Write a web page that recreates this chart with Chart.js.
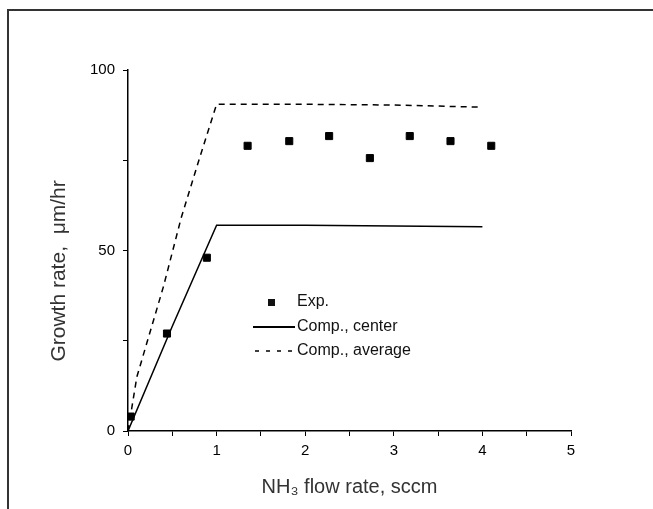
<!DOCTYPE html>
<html>
<head>
<meta charset="utf-8">
<script src="https://cdn.jsdelivr.net/npm/chart.js@4.4.0/dist/chart.umd.min.js"></script>
<style>
  html, body { margin: 0; padding: 0; background: #fff; }
  #wrap { width: 653px; height: 509px; }
</style>
</head>
<body>
<div id="wrap"><canvas id="graph" width="653" height="509"></canvas></div>
<script>
// experimental points
let expX = [0.03, 0.44, 0.89, 1.35, 1.82, 2.27, 2.73, 3.18, 3.64, 4.1];
let expY = [4, 27, 48, 79, 80.3, 81.7, 75.6, 81.7, 80.3, 79];
// computed, center
let centerX = [0, 0.5, 1, 2, 3, 4];
let centerY = [0, 29, 57, 57, 56.8, 56.6];
// computed, average
let avgX = [0, 0.1, 0.4, 0.6, 0.8, 1, 2, 3, 4];
let avgY = [0, 15, 40, 59, 75, 90.5, 90.5, 90.3, 89.7];

let xTicks = [0, 1, 2, 3, 4, 5];
let yTicks = [0, 50, 100];

function pts(xs, ys) {
    return xs.map((x, i) => ({ x: x, y: ys[i] }));
}

let font = "'Liberation Sans', Arial, sans-serif";

// frame + legend sitting inside the plot
let extras = {
    id: 'extras',
    beforeDraw(chart) {
        let c = chart.ctx;
        c.save();
        c.strokeStyle = '#333';
        c.lineWidth = 2;
        c.beginPath();
        c.moveTo(8, 509);
        c.lineTo(8, 10);
        c.lineTo(653, 10);
        c.stroke();
        c.restore();
    },
    afterDraw(chart) {
        let c = chart.ctx;
        c.save();
        c.fillStyle = '#111';
        c.strokeStyle = '#000';
        c.font = '16px ' + font;
        c.textBaseline = 'middle';
        // Exp.
        c.fillRect(268, 299, 7, 7);
        c.fillText('Exp.', 297, 302);
        // center
        c.lineWidth = 2;
        c.beginPath();
        c.moveTo(253, 327);
        c.lineTo(295, 327);
        c.stroke();
        c.fillText('Comp., center', 297, 327);
        // average
        c.lineWidth = 1.5;
        c.setLineDash([4, 7]);
        c.beginPath();
        c.moveTo(255, 351);
        c.lineTo(293, 351);
        c.stroke();
        c.setLineDash([]);
        c.fillText('Comp., average', 297, 351);
        c.restore();
    }
};

let stat = new Chart(document.getElementById('graph').getContext('2d'), {
    type: 'scatter',
    data: {
        datasets: [{
            label: 'Exp.',
            data: pts(expX, expY),
            pointStyle: 'rect',
            pointRadius: 5,
            backgroundColor: '#000',
            borderColor: '#000',
            showLine: false
        }, {
            label: 'Comp., center',
            data: pts(centerX, centerY),
            showLine: true,
            borderColor: '#000',
            borderWidth: 1.5,
            pointRadius: 0
        }, {
            label: 'Comp., average',
            data: pts(avgX, avgY),
            showLine: true,
            borderColor: '#000',
            borderWidth: 1.5,
            borderDash: [6, 5],
            pointRadius: 0
        }]
    },
    options: {
        responsive: false,
        animation: false,
        layout: { padding: { top: 70, right: 82, left: 47, bottom: 0 } },
        plugins: { legend: { display: false }, tooltip: { enabled: false } },
        scales: {
            x: {
                type: 'linear',
                min: 0,
                max: 5,
                afterBuildTicks: s => { s.ticks = [0, 0.5, 1, 1.5, 2, 2.5, 3, 3.5, 4, 4.5, 5].map(v => ({ value: v })); },
                afterFit: s => { s.height = 78; },
                ticks: {
                    color: '#000',
                    font: { family: font, size: 15 },
                    padding: 6,
                    maxRotation: 0,
                    autoSkip: false,
                    callback: v => xTicks.includes(v) ? String(v) : ''
                },
                grid: { drawOnChartArea: false, tickLength: 5, color: '#000' },
                border: { color: '#000', width: 1.5 },
                title: {
                    display: true,
                    text: 'NH\u2083 flow rate, sccm',
                    color: '#333',
                    font: { family: font, size: 20 },
                    padding: { top: 4, bottom: 10 }
                }
            },
            y: {
                min: 0,
                max: 100,
                afterBuildTicks: s => { s.ticks = [0, 25, 50, 75, 100].map(v => ({ value: v })); },
                afterFit: s => { s.width = 81; },
                ticks: {
                    color: '#000',
                    font: { family: font, size: 15 },
                    padding: 8,
                    callback: v => yTicks.includes(v) ? String(v) : ''
                },
                grid: { drawOnChartArea: false, tickLength: 5, color: '#000' },
                border: { color: '#000', width: 1.5 },
                title: {
                    display: true,
                    text: 'Growth rate,  \u03bcm/hr       ',
                    color: '#333',
                    font: { family: font, size: 21 },
                    padding: { top: 0, bottom: 4 }
                }
            }
        }
    },
    plugins: [extras]
});
</script>
</body>
</html>
